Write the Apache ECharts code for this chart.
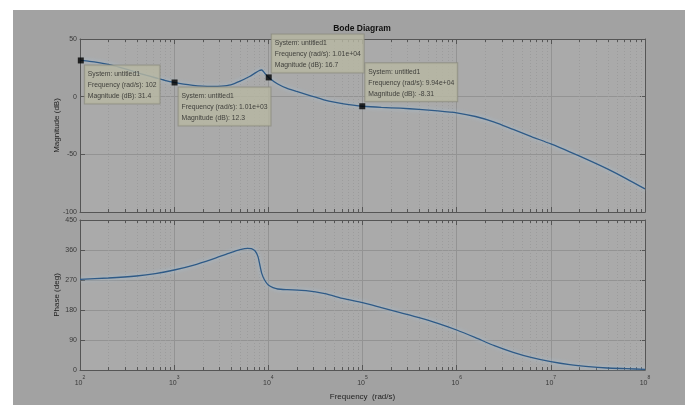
<!DOCTYPE html>
<html>
<head>
<meta charset="utf-8">
<script src="https://cdn.jsdelivr.net/npm/echarts@6/dist/echarts.min.js"></script>
<style>html,body{margin:0;padding:0;background:#fff}#c{width:693px;height:405px}</style>
</head>
<body>
<div id="c"></div>
<script>
// ---- data (frequency in rad/s) ----
const magFreq = [100,126,158,200,251,316,398,501,631,794,1000,1259,1585,1995,2512,3162,3981,5012,6310,7079,7943,8511,9120,10000,12589,15849,19953,25119,31623,39811,50119,63096,79433,100000,158489,251189,398107,630957,1000000,1584893,2511886,3981072,6309573,10000000,15848932,25118864,39810717,63095734,100000000];
const magDb   = [31.4,30.6,29.5,28.0,26.0,23.6,21.0,18.6,16.4,14.2,12.3,10.8,9.8,9.2,9.0,9.2,10.3,13.5,17.5,20.0,22.5,23.1,20.5,16.9,11.0,7.2,4.5,2.0,-0.5,-3.0,-4.8,-6.2,-7.4,-8.3,-9.3,-10.0,-11.0,-12.3,-14.0,-17.2,-22.0,-28.4,-34.8,-41.0,-47.8,-55.0,-62.6,-71.0,-80.0];
const phaseFreq = [100,200,398,631,1000,1585,2512,3981,5012,6026,6607,7244,7762,8128,8511,9120,10000,11220,12589,15849,25119,39811,63096,100000,158489,251189,398107,630957,1000000,1584893,2511886,3981072,6309573,10000000,15848932,25118864,39810717,63095734,100000000];
const phaseDeg  = [272,276,282,289,300,314,332,352,361,365,364,357,340,315,290,270,255,247,243,241,238,229,214,202,187,172,157,140,120,97,73,53,37,25,16,10,6,4,2];
const magTicks = [-100,-50,0,50];
const phaseTicks = [0,90,180,270,360,450];
const decadeExps = [2,3,4,5,6,7,8];
const minorMult = [2,3,4,5,6,7,8,9];
const tipFreq = [102,1010,10100,99400];
const tipMag = [31.4,12.3,16.7,-8.31];
const tipFreqText = ['102','1.01e+03','1.01e+04','9.94e+04'];
const tipMagText = ['31.4','12.3','16.7','-8.31'];
const tipAbove = [false,false,true,true];
const systemName = 'untitled1';

const lg = v => Math.log10(v);
const minorTicks = [];
decadeExps.slice(0,-1).forEach(e => minorMult.forEach(m => minorTicks.push(lg(m*Math.pow(10,e)))));

const FONT2 = '"Liberation Sans",Arial,sans-serif';
const axisCol = '#555555';
const gridCol = '#939393';
const minorCol = '#9c9c9c';
const plotBg = '#aaaaaa';

function minorSeries(gi, yMin, yMax, dy) {
  return {
    type: 'custom', xAxisIndex: gi, yAxisIndex: gi, silent: true, z: 1,
    data: minorTicks.map(v => [v]),
    renderItem: function (params, api) {
      const x = api.value(0);
      const t = api.coord([x, yMax]);
      const b = api.coord([x, yMin]);
      const px = Math.round(t[0]) + 0.5;
      return { type: 'group', children: [
        { type: 'line', shape: { x1: px, y1: t[1], x2: px, y2: b[1] }, style: { stroke: minorCol, lineWidth: 1, lineDash: [1, 2] } },
        { type: 'line', shape: { x1: px, y1: b[1], x2: px, y2: b[1] - dy }, style: { stroke: axisCol, lineWidth: 1 } },
        { type: 'line', shape: { x1: px, y1: t[1], x2: px, y2: t[1] + dy }, style: { stroke: axisCol, lineWidth: 1 } }
      ]};
    }
  };
}

function xAx(gi, pos, showLabels, name) {
  return {
    type: 'value', gridIndex: gi, position: pos, min: 2, max: 8, interval: 1,
    axisLine: { show: true, onZero: false, lineStyle: { color: axisCol, width: 1 } },
    axisTick: { show: true, inside: true, length: 5, lineStyle: { color: axisCol } },
    splitLine: { show: pos === 'bottom', lineStyle: { color: gridCol, width: 1 } },
    axisLabel: {
      show: showLabels, margin: 5,
      formatter: v => '{b|10}{s|' + Math.round(v) + '}',
      rich: {
        b: { fontSize: 7, fontFamily: FONT2, color: '#3a3a3a', lineHeight: 12, verticalAlign: 'bottom' },
        s: { fontSize: 5, fontFamily: FONT2, color: '#3a3a3a', lineHeight: 6, verticalAlign: 'top' }
      }
    },
    name: name || '', nameLocation: 'middle', nameGap: 23, nameMoveOverlap: false,
    nameTextStyle: { fontSize: 8, fontFamily: FONT2, color: '#222' }
  };
}

function yAx(gi, pos, min, max, interval, name) {
  return {
    type: 'value', gridIndex: gi, position: pos, min: min, max: max, interval: interval,
    axisLine: { show: true, onZero: false, lineStyle: { color: axisCol, width: 1 } },
    axisTick: { show: true, inside: true, length: 5, lineStyle: { color: axisCol } },
    splitLine: { show: pos === 'left', lineStyle: { color: gridCol, width: 1 } },
    axisLabel: { show: pos === 'left', fontSize: 7, fontFamily: FONT2, color: '#3a3a3a', margin: 3 },
    name: name || '', nameLocation: 'middle', nameGap: 19, nameMoveOverlap: false,
    nameTextStyle: { fontSize: 8, fontFamily: FONT2, color: '#222' }
  };
}

const lineStyle = { color: '#2f5a86', width: 1.3, shadowColor: 'rgba(165,200,228,0.95)', shadowBlur: 4 };

const chart = echarts.init(document.getElementById('c'), null, { renderer: 'canvas' });
chart.setOption({
  backgroundColor: '#ffffff',
  animation: false,
  graphic: [
    { type: 'rect', z: -10, shape: { x: 13, y: 10, width: 672, height: 395 }, style: { fill: '#a2a2a2' } },
    { type: 'text', z: 10, x: 362, y: 29, style: { text: 'Bode Diagram', font: 'bold 8.5px ' + FONT2, fill: '#111', textAlign: 'center', textVerticalAlign: 'middle' } }
  ],
  grid: [
    { left: 80, top: 39, width: 565, height: 173, show: true, backgroundColor: plotBg, borderColor: axisCol, borderWidth: 0 },
    { left: 80, top: 220, width: 565, height: 150, show: true, backgroundColor: plotBg, borderColor: axisCol, borderWidth: 0 }
  ],
  xAxis: [
    xAx(0, 'bottom', false),
    xAx(1, 'bottom', true, 'Frequency  (rad/s)'),
    xAx(0, 'top', false),
    xAx(1, 'top', false)
  ],
  yAxis: [
    yAx(0, 'left', magTicks[0], magTicks[magTicks.length - 1], 50, 'Magnitude (dB)'),
    yAx(1, 'left', phaseTicks[0], phaseTicks[phaseTicks.length - 1], 90, 'Phase (deg)'),
    yAx(0, 'right', magTicks[0], magTicks[magTicks.length - 1], 50),
    yAx(1, 'right', phaseTicks[0], phaseTicks[phaseTicks.length - 1], 90)
  ],
  series: [
    minorSeries(0, -100, 50, 3),
    minorSeries(1, 0, 450, 3),
    {
      type: 'line', xAxisIndex: 0, yAxisIndex: 0, z: 3, symbol: 'none', smooth: 0.2,
      data: magFreq.map((f, i) => [lg(f), magDb[i]]), lineStyle: lineStyle
    },
    {
      type: 'line', xAxisIndex: 1, yAxisIndex: 1, z: 3, symbol: 'none', smooth: 0.2,
      data: phaseFreq.map((f, i) => [lg(f), phaseDeg[i]]), lineStyle: lineStyle
    },
    {
      type: 'scatter', xAxisIndex: 0, yAxisIndex: 0, z: 10, symbol: 'rect', symbolSize: 6,
      itemStyle: { color: '#000' },
      data: tipFreq.map((f, i) => ({
        value: [lg(f), tipMag[i]],
        label: {
          show: true,
          position: tipAbove[i] ? [6, -2] : [7, 8],
          verticalAlign: tipAbove[i] ? 'bottom' : 'top',
          align: 'left',
          formatter: 'System: ' + systemName + '\nFrequency (rad/s): ' + tipFreqText[i] + '\nMagnitude (dB): ' + tipMagText[i],
          backgroundColor: '#b8b8a2', borderColor: '#8c8c80', borderWidth: 1,
          padding: [3, 3, 2, 3], lineHeight: 11, fontSize: 6.8, fontFamily: FONT2, color: '#1e1e1e'
        }
      }))
    }
  ]
});
</script>
</body>
</html>
